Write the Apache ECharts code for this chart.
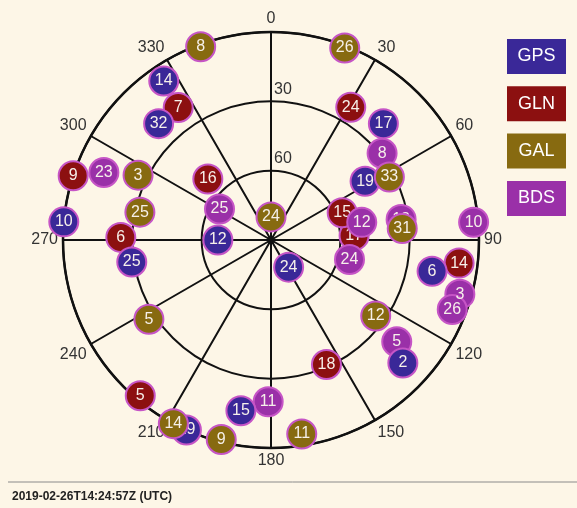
<!DOCTYPE html>
<html>
<head>
<meta charset="utf-8">
<script src="https://cdn.jsdelivr.net/npm/echarts@6/dist/echarts.min.js"></script>
<style>
    html, body { margin: 0; padding: 0; background: #fdf6e7; }
    #sky { width: 577px; height: 508px; }
</style>
</head>
<body>
<div id="sky"></div>
<script>
    // sky plot: azimuth (deg, clockwise from north), elevation (deg)
    var timeStamp = '2019-02-26T14:24:57Z (UTC)';
    var systems = ['GPS', 'GLN', 'GAL', 'BDS'];
    var colors = ['#3a2898', '#8c1010', '#876a10', '#9a30a8'];

    var gpsPrn = [14, 32, 10, 12, 25, 29, 15, 17, 19, 24, 6, 2];
    var gpsAz = [326, 316, 275, 270, 261, 204, 190, 44, 58, 147, 101, 133];
    var gpsEl = [7, 20, 0, 67, 29, 0, 15, 20, 42, 76, 19, 12];

    var glnPrn = [7, 9, 16, 6, 5, 24, 17, 15, 14, 18];
    var glnAz = [325, 288, 314, 271, 220, 31, 87, 69, 97, 156];
    var glnEl = [20, 0, 52, 25, 2, 23, 54, 57, 8, 31];

    var galPrn = [8, 3, 25, 24, 5, 14, 9, 26, 33, 31, 12, 11];
    var galAz = [340, 296, 282, 0, 237, 208, 194, 21, 62, 85, 126, 171];
    var galEl = [1, 26, 32, 80, 27, 0, 1, 1, 32, 33, 34, 5];

    var bdsPrn = [23, 25, 11, 8, 12, 13, 10, 24, 3, 26, 5];
    var bdsAz = [292, 301, 181, 52, 79, 81, 85, 104, 106, 111, 129];
    var bdsEl = [12, 64, 20, 29, 50, 33, 2, 55, 5, 6, 20];

    var font = 'Liberation Sans, Arial, sans-serif';

    function satSeries(idx, prn, az, el, z) {
        let data = [];
        for (let i = 0; i < prn.length; i++) {
            data.push({value: [el[i], az[i]], name: String(prn[i])});
        }
        return {
            name: systems[idx],
            type: 'scatter',
            coordinateSystem: 'polar',
            z: z,
            symbol: 'circle',
            symbolSize: 29,
            itemStyle: {
                color: colors[idx],
                opacity: 1,
                borderColor: '#c655c6',
                borderWidth: 2
            },
            label: {
                show: true,
                position: 'inside',
                formatter: '{b}',
                color: '#f6f0ea',
                fontSize: 16,
                fontFamily: font
            },
            data: data
        };
    }

    let legendItems = [];
    systems.forEach(function (s, i) {
        legendItems.push({
            type: 'group',
            right: 11,
            top: 39 + i * 47.3,
            children: [{
                type: 'rect',
                shape: {x: 0, y: 0, width: 59, height: 35},
                style: {fill: colors[i]}
            }, {
                type: 'text',
                x: 29.5, y: 17.5,
                style: {
                    text: s, fill: '#ffffff', fontSize: 18,
                    fontFamily: font,
                    align: 'center', verticalAlign: 'middle'
                }
            }]
        });
    });
    legendItems.push({
        type: 'line',
        shape: {x1: 8, y1: 482, x2: 577, y2: 482},
        style: {stroke: '#8a8a8a', lineWidth: 1}
    });

    let myChart = echarts.init(document.getElementById('sky'));
    let option = {
        backgroundColor: '#fdf6e7',
        animation: false,
        title: {
            text: timeStamp,
            left: 7,
            top: 486,
            textStyle: {
                fontSize: 12,
                fontWeight: 'bold',
                color: '#222',
                fontFamily: font
            }
        },
        polar: {
            center: [271, 240],
            radius: 208
        },
        angleAxis: {
            type: 'value',
            min: 0,
            max: 360,
            interval: 30,
            startAngle: 90,
            clockwise: true,
            axisLine: {lineStyle: {color: '#111', width: 2.5}},
            axisTick: {show: false},
            axisLabel: {
                margin: 5,
                color: '#333',
                fontSize: 16,
                fontFamily: font,
                formatter: function (v) { return v === 360 ? '' : v; }
            },
            splitLine: {show: true, lineStyle: {color: '#111', width: 2}}
        },
        radiusAxis: {
            type: 'value',
            min: 0,
            max: 90,
            interval: 30,
            inverse: true,
            axisLine: {show: false},
            axisTick: {show: false},
            axisLabel: {
                margin: -3,
                align: 'left',
                verticalAlign: 'bottom',
                padding: [0, 0, 4, 0],
                color: '#333',
                fontSize: 16,
                fontFamily: font,
                formatter: function (v) { return (v === 30 || v === 60) ? v : ''; }
            },
            splitLine: {show: true, lineStyle: {color: '#111', width: 2}}
        },
        graphic: legendItems,
        series: [
            satSeries(0, gpsPrn, gpsAz, gpsEl, 4),
            satSeries(1, glnPrn, glnAz, glnEl, 2),
            satSeries(2, galPrn, galAz, galEl, 5),
            satSeries(3, bdsPrn, bdsAz, bdsEl, 3)
        ]
    };
    myChart.setOption(option);
</script>
</body>
</html>
